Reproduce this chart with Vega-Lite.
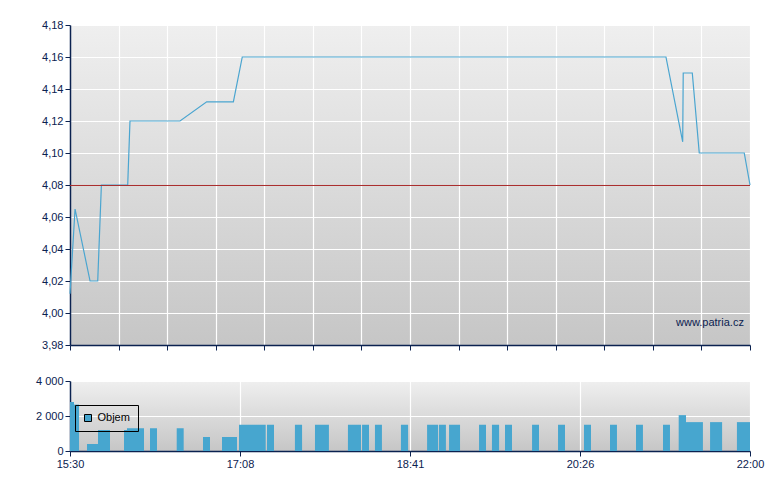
{
  "$schema": "https://vega.github.io/schema/vega-lite/v6.json",
  "background": "#ffffff",
  "padding": {"left": 20, "top": 19, "right": 5, "bottom": 5},
  "spacing": 24,
  "datasets": {
    "price": [
      {"t": 0, "price": 4.012},
      {"t": 2.9, "price": 4.065},
      {"t": 11.5, "price": 4.02},
      {"t": 15.9, "price": 4.02},
      {"t": 18.0, "price": 4.08},
      {"t": 33.1, "price": 4.08},
      {"t": 34.4, "price": 4.12},
      {"t": 63.1, "price": 4.12},
      {"t": 78.4, "price": 4.132},
      {"t": 93.7, "price": 4.132},
      {"t": 98.8, "price": 4.16},
      {"t": 341.8, "price": 4.16},
      {"t": 351.4, "price": 4.107},
      {"t": 351.7, "price": 4.15},
      {"t": 356.9, "price": 4.15},
      {"t": 360.9, "price": 4.1},
      {"t": 386.7, "price": 4.1},
      {"t": 390, "price": 4.08}
    ],
    "volume": [
      {"t0": 0, "t1": 2.3, "vol": 2800},
      {"t0": 2.3, "t1": 5.2, "vol": 2650},
      {"t0": 9.75, "t1": 16.06, "vol": 400},
      {"t0": 16.06, "t1": 22.94, "vol": 1200},
      {"t0": 30.97, "t1": 32.69, "vol": 1200},
      {"t0": 32.69, "t1": 42.44, "vol": 1300},
      {"t0": 45.88, "t1": 49.9, "vol": 1300},
      {"t0": 61.2, "t1": 65.2, "vol": 1300},
      {"t0": 76.28, "t1": 80.29, "vol": 800},
      {"t0": 87.18, "t1": 95.78, "vol": 800},
      {"t0": 96.93, "t1": 112.24, "vol": 1500},
      {"t0": 113.0, "t1": 117.0, "vol": 1500},
      {"t0": 129.0, "t1": 133.1, "vol": 1500},
      {"t0": 140.5, "t1": 148.5, "vol": 1500},
      {"t0": 159.4, "t1": 166.9, "vol": 1500},
      {"t0": 167.5, "t1": 171.5, "vol": 1500},
      {"t0": 174.9, "t1": 178.9, "vol": 1500},
      {"t0": 189.8, "t1": 193.9, "vol": 1500},
      {"t0": 204.8, "t1": 211.1, "vol": 1500},
      {"t0": 211.6, "t1": 215.6, "vol": 1500},
      {"t0": 217.4, "t1": 223.7, "vol": 1500},
      {"t0": 234.6, "t1": 238.6, "vol": 1500},
      {"t0": 242.0, "t1": 246.1, "vol": 1500},
      {"t0": 249.5, "t1": 253.5, "vol": 1500},
      {"t0": 265.0, "t1": 269.0, "vol": 1500},
      {"t0": 279.9, "t1": 283.9, "vol": 1500},
      {"t0": 294.8, "t1": 298.8, "vol": 1500},
      {"t0": 309.7, "t1": 313.7, "vol": 1500},
      {"t0": 324.6, "t1": 328.6, "vol": 1500},
      {"t0": 340.1, "t1": 344.1, "vol": 1500},
      {"t0": 349.1, "t1": 353.3, "vol": 2050},
      {"t0": 353.3, "t1": 363.0, "vol": 1650},
      {"t0": 367.1, "t1": 374.0, "vol": 1650},
      {"t0": 382.5, "t1": 390, "vol": 1650}
    ]
  },
  "vconcat": [
    {
      "width": 680,
      "height": 320,
      "layer": [
        {
          "data": {"name": "price"},
          "mark": {"type": "line", "color": "#4aa5d0", "strokeWidth": 1.2},
          "encoding": {
            "x": {
              "field": "t",
              "type": "quantitative",
              "scale": {"domain": [0, 390], "nice": false},
              "axis": {
                "title": null,
                "labels": false,
                "tickCount": 30,
                "values": [0, 27.857, 55.714, 83.571, 111.429, 139.286, 167.143, 195, 222.857, 250.714, 278.571, 306.429, 334.286, 362.143, 390],
                "minExtent": 5,
                "maxExtent": 5
              }
            },
            "y": {
              "field": "price",
              "type": "quantitative",
              "scale": {"domain": [3.98, 4.18], "nice": false, "zero": false},
              "axis": {
                "title": null,
                "tickCount": 20,
                "values": [3.98, 4.0, 4.02, 4.04, 4.06, 4.08, 4.1, 4.12, 4.14, 4.16, 4.18],
                "format": ".2f",
                "labelOverlap": false,
                "minExtent": 50,
                "maxExtent": 50
              }
            }
          }
        },
        {
          "data": {"values": [{}]},
          "mark": {"type": "rule", "color": "#a82a2a", "strokeWidth": 1},
          "encoding": {"y": {"datum": 4.0797}}
        },
        {
          "data": {"values": [{}]},
          "mark": {"type": "text", "align": "right", "baseline": "middle", "fontSize": 11, "font": "Liberation Sans", "color": "#0b2250"},
          "encoding": {
            "x": {"datum": 386.5},
            "y": {"datum": 3.994},
            "text": {"value": "www.patria.cz"}
          }
        }
      ]
    },
    {
      "width": 680,
      "height": 70,
      "data": {"name": "volume"},
      "mark": {"type": "rect", "color": "#47a6cf"},
      "encoding": {
        "x": {
          "field": "t0",
          "type": "quantitative",
          "scale": {"domain": [0, 390], "nice": false},
          "axis": {
            "title": null,
            "tickCount": 10,
            "values": [0, 97.5, 195, 292.5, 390],
            "labelFlush": false,
            "labelOverlap": false,
            "labelExpr": "datum.value == 0 ? '15:30' : datum.value == 97.5 ? '17:08' : datum.value == 195 ? '18:41' : datum.value == 292.5 ? '20:26' : '22:00'"
          }
        },
        "x2": {"field": "t1"},
        "y": {
          "field": "vol",
          "type": "quantitative",
          "scale": {"domain": [0, 4000], "nice": false},
          "axis": {
            "title": null,
            "tickCount": 5,
            "values": [0, 2000, 4000],
            "format": ",.0f",
            "labelOverlap": false,
            "minExtent": 50,
            "maxExtent": 50
          }
        },
        "y2": {"datum": 0},
        "color": {
          "datum": "Objem",
          "scale": {"range": ["#47a6cf"]},
          "legend": {
            "title": null,
            "orient": "none",
            "legendX": 5,
            "legendY": 380,
            "strokeColor": "#000000",
            "padding": 7.5,
            "symbolType": "square",
            "symbolSize": 49,
            "symbolStrokeColor": "#000000",
            "symbolStrokeWidth": 1,
            "symbolOpacity": 1,
            "labelFontSize": 11,
            "labelFont": "Liberation Sans",
            "labelColor": "#000000"
          }
        }
      }
    }
  ],
  "config": {
    "locale": {
      "number": {"decimal": ",", "thousands": " ", "grouping": [3], "currency": ["", " Kč"]}
    },
    "view": {
      "stroke": null,
      "fill": {
        "gradient": "linear",
        "x1": 0, "y1": 0, "x2": 0, "y2": 1,
        "stops": [
          {"offset": 0, "color": "#efefef"},
          {"offset": 1, "color": "#c6c6c6"}
        ]
      }
    },
    "axis": {
      "labelFont": "Liberation Sans",
      "labelFontSize": 11,
      "labelColor": "#0b2250",
      "labelOverlap": false,
      "domainColor": "#0b2250",
      "domainWidth": 1.5,
      "tickColor": "#0b2250",
      "tickSize": 5,
      "tickWidth": 1,
      "labelPadding": 2,
      "gridColor": "#ffffff",
      "gridWidth": 1.2,
      "gridOpacity": 1
    }
  }
}
